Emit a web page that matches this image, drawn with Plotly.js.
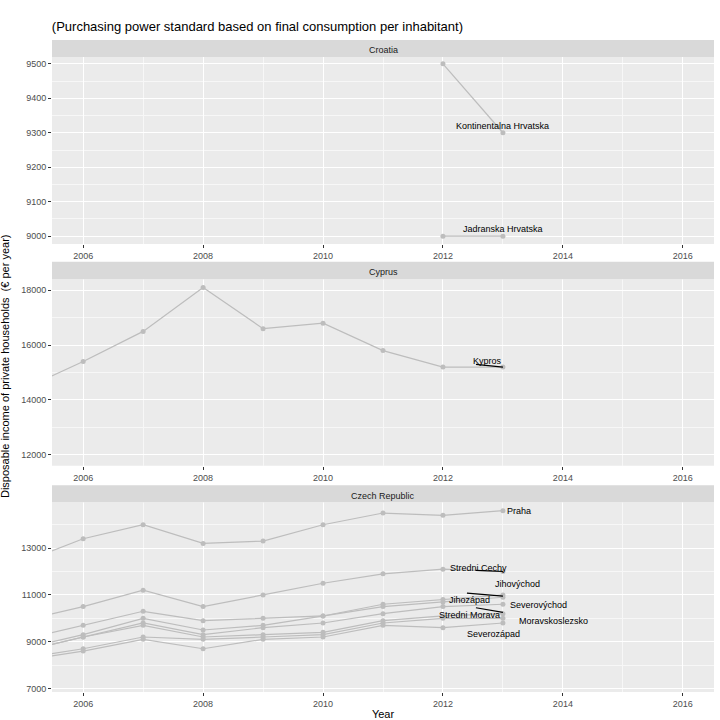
<!DOCTYPE html>
<html><head><meta charset="utf-8">
<script src="https://cdn.plot.ly/plotly-3.0.1.min.js"></script>
<style>body{margin:0}</style></head>
<body><div id="chart" style="width:720px;height:720px"></div>
<script>
const years = [2005, 2006, 2007, 2008, 2009, 2010, 2011, 2012, 2013]
const croatiaYears = [2012, 2013]
const kontinentalna = [9500, 9300]
const jadranska = [9000, 9000]
const kypros = [14400, 15400, 16500, 18100, 16600, 16800, 15800, 15200, 15200]
const praha = [12400, 13400, 14000, 13200, 13300, 14000, 14500, 14400, 14600]
const stredniCechy = [9900, 10500, 11200, 10500, 11000, 11500, 11900, 12100, 12000]
const jihovychod = [9100, 9700, 10300, 9900, 10000, 10100, 10600, 10800, 11000]
const jihozapad = [8700, 9300, 10000, 9500, 9700, 10100, 10500, 10700, 10900]
const severovychod = [8600, 9200, 9800, 9300, 9600, 9800, 10200, 10500, 10600]
const stredniMorava = [8600, 9200, 9700, 9200, 9300, 9400, 9900, 10100, 10200]
const moravskoslezsko = [8300, 8700, 9200, 9100, 9200, 9300, 9800, 10000, 10000]
const severozapad = [8200, 8600, 9100, 8700, 9100, 9200, 9700, 9600, 9800]

const grey = '#bdbdbd'
function tr(x, y, ax) {
  return { x, y, xaxis: 'x' + ax, yaxis: 'y' + ax, type: 'scatter', mode: 'lines+markers',
    line: { color: grey, width: 1.2 }, marker: { color: grey, size: 5 }, showlegend: false, hoverinfo: 'skip' }
}
const data = [
  tr(croatiaYears, kontinentalna, ''), tr(croatiaYears, jadranska, ''),
  tr(years, kypros, 2),
  tr(years, praha, 3), tr(years, stredniCechy, 3), tr(years, jihovychod, 3), tr(years, jihozapad, 3),
  tr(years, severovychod, 3), tr(years, stredniMorava, 3), tr(years, moravskoslezsko, 3), tr(years, severozapad, 3),
]
function xa(anchor) {
  return { anchor, range: [2005.48, 2016.52], dtick: 2, tick0: 2006, showgrid: true, gridcolor: '#fff', gridwidth: 1.3,
    minor: { dtick: 1, showgrid: true, gridcolor: '#f7f7f7', gridwidth: 0.6 }, zeroline: false,
    ticks: 'outside', ticklen: 3, tickcolor: '#333', tickfont: { size: 9, color: '#4d4d4d' } }
}
function ya(domain, range, tickvals) {
  const step = tickvals[1] - tickvals[0]
  return { domain, range, tickvals, tickformat: 'd', showgrid: true, gridcolor: '#fff', gridwidth: 1.3, zeroline: false,
    minor: { tickvals: tickvals.map(v => v + step / 2).concat([tickvals[0] - step / 2]), showgrid: true, gridcolor: '#f7f7f7', gridwidth: 0.6 },
    ticks: 'outside', ticklen: 3, tickcolor: '#333', tickfont: { size: 9, color: '#4d4d4d' } }
}
const strips = [[0.974, 1.0, 'Croatia'], [0.633, 0.660, 'Cyprus'], [0.291, 0.317, 'Czech Republic']]
const bgs = [[0.687, 0.974], [0.347, 0.633], [0, 0.291]]
const shapes = []
const annotations = []
bgs.forEach(b => shapes.push({ type: 'rect', xref: 'paper', yref: 'paper', x0: 0, x1: 1, y0: b[0], y1: b[1], fillcolor: '#ebebeb', line: { width: 0 }, layer: 'below' }))
strips.forEach(s => {
  shapes.push({ type: 'rect', xref: 'paper', yref: 'paper', x0: 0, x1: 1, y0: s[0], y1: s[1], fillcolor: '#d9d9d9', line: { width: 0 } })
  annotations.push({ xref: 'paper', yref: 'paper', x: 0.5, y: (s[0] + s[1]) / 2, yanchor: 'middle', yshift: -2, text: s[2], showarrow: false, font: { size: 9, color: '#1a1a1a' } })
})
function lab(text, x, y, ax) {
  annotations.push({ xref: 'x' + ax, yref: 'y' + ax, x, y, text, showarrow: false, font: { size: 9, color: '#000' } })
}
function seg(ax, x0, y0, x1, y1) {
  shapes.push({ type: 'line', xref: 'x' + ax, yref: 'y' + ax, x0, y0, x1, y1, line: { color: '#000', width: 1.2 } })
}
lab('Kontinentalna Hrvatska', 2013, 9320, '')
lab('Jadranska Hrvatska', 2013.0, 9022, '')
lab('Kypros', 2012.75, 15420, 2)
seg(2, 2012.55, 15300, 2013, 15200)
lab('Praha', 2013.27, 14600, 3)
lab('Stredni Cechy', 2012.6, 12150, 3)
seg(3, 2012.55, 12050, 2013, 12000)
lab('Jihovýchod', 2013.25, 11480, 3)
lab('Jihozápad', 2012.45, 10790, 3)
seg(3, 2012.4, 11080, 2013, 10950)
lab('Severovýchod', 2013.6, 10570, 3)
lab('Stredni Morava', 2012.45, 10150, 3)
seg(3, 2012.55, 10450, 2013, 10250)
lab('Moravskoslezsko', 2013.85, 9880, 3)
lab('Severozápad', 2012.85, 9310, 3)

annotations.push({ xref: 'paper', yref: 'paper', x: -0.083, y: 0.5, textangle: -90, showarrow: false, text: 'Disposable income of private households  (€ per year)', font: { size: 11, color: '#000' } })

const layout = {
  width: 720, height: 720, paper_bgcolor: '#fff', plot_bgcolor: 'rgba(0,0,0,0)',
  font: { family: 'Liberation Sans, Arial, sans-serif' },
  margin: { l: 52, r: 6, t: 40, b: 28 },
  title: { text: '(Purchasing power standard based on final consumption per inhabitant)', x: 0.072, xanchor: 'left', y: 0.97, font: { size: 13, color: '#000' } },
  xaxis: xa('y'), xaxis2: xa('y2'), xaxis3: Object.assign(xa('y3'), { title: { text: 'Year', font: { size: 11, color: '#000' }, standoff: 4 } }),
  yaxis: ya([0.687, 0.974], [8977, 9520], [9000, 9100, 9200, 9300, 9400, 9500]),
  yaxis2: ya([0.347, 0.633], [11600, 18400], [12000, 14000, 16000, 18000]),
  yaxis3: ya([0, 0.291], [6850, 14960], [7000, 9000, 11000, 13000]),
  shapes, annotations,
}
Plotly.newPlot('chart', data, layout, { displayModeBar: false })
</script></body></html>
